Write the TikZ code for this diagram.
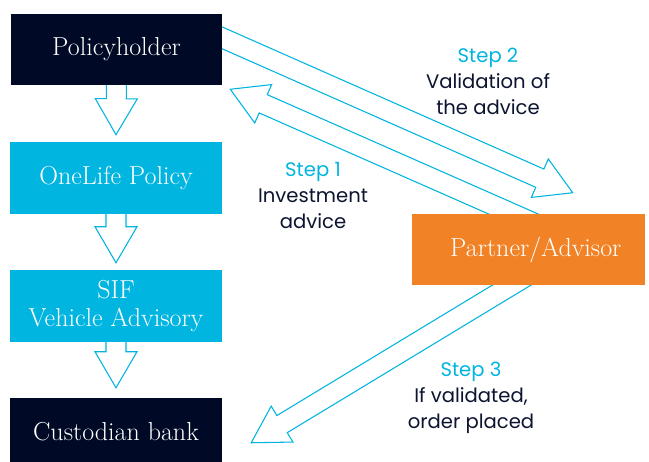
\documentclass[tikz,border=0pt]{standalone}
\usepackage{fontspec}
\newfontfamily\stepfont{Poppins}
\usetikzlibrary{calc,backgrounds}

\definecolor{navy}{RGB}{0,10,38}
\definecolor{sky}{RGB}{0,181,224}
\definecolor{flame}{RGB}{241,131,38}
\definecolor{ink}{RGB}{12,20,48}

% Outlined block arrow from #1 (tail, hidden under a box) to #2 (tip)
\newcommand\blockarrow[2]{%
  \path (#2) coordinate (ahtip) ($(#2)!27pt!(#1)$) coordinate (ahbase);
  \draw[flowline] ($(#1)!7.5pt!90:(ahtip)$) -- ($(ahbase)!7.5pt!90:(ahtip)$)
    -- ($(ahbase)!15.75pt!90:(ahtip)$) -- (ahtip)
    -- ($(ahbase)!15.75pt!-90:(ahtip)$) -- ($(ahbase)!7.5pt!-90:(ahtip)$)
    -- ($(#1)!7.5pt!-90:(ahtip)$) -- cycle;}

\begin{document}
\begin{tikzpicture}[x=0.75pt,y=-0.75pt,
  box/.style={inner sep=0pt, text=white, align=center,
    font=\fontsize{19.5}{20.5}\selectfont},
  darkbox/.style={box, fill=navy},
  skybox/.style={box, fill=sky},
  flowline/.style={draw=sky, line width=0.8pt, line join=miter},
  steptext/.style={align=center, text=ink,
    font=\stepfont\fontsize{14.7}{19.5}\selectfont}]

\useasboundingbox (0,0) rectangle (649,461);

% boxes
\node[darkbox, minimum width=158.25pt, minimum height=53.25pt] (ph) at (116.5,49.5) {Policyholder};
\node[skybox, minimum width=159pt, minimum height=54pt] (ol) at (116,178) {OneLife Policy};
\node[skybox, minimum width=159pt, minimum height=54pt] (sif) at (116,306) {SIF\\Vehicle Advisory};
\node[darkbox, minimum width=159pt, minimum height=51pt] (cb) at (116,432) {Custodian bank};
\node[box, fill=flame, minimum width=174.75pt, minimum height=53.25pt] (pa) at (528.5,249.5) {\hspace*{11pt}Partner/Advisor};

% step labels
\node[steptext] (t2) at (488,81.5) {\textcolor{sky}{Step 2}\\Validation of\\the advice};
\node[steptext] (t1) at (313,195.5) {\textcolor{sky}{Step 1}\\Investment\\advice};
\node[steptext] (t3) at (471,397.5) {\textcolor{sky}{Step 3}\\If validated,\\order placed};

% arrow end points
\coordinate (d1s) at ($(ph.south)+(0,-15)$);
\coordinate (d1t) at ($(ol.north)+(0,-7)$);
\coordinate (d2s) at ($(ol.south)+(0,-15)$);
\coordinate (d2t) at ($(sif.north)+(0,-7)$);
\coordinate (d3s) at ($(sif.south)+(0,-15)$);
\coordinate (d3t) at ($(cb.north)+(0,-10)$);
\coordinate (s2s) at ($(ph.north west)+(184,12)$);
\coordinate (s2t) at ($(pa.north west)+(161,-21)$);
\coordinate (s1s) at ($(pa.north west)+(126,11)$);
\coordinate (s1t) at ($(ph.south east)+(8,4)$);
\coordinate (s3s) at ($(pa.south west)+(136,-22)$);
\coordinate (s3t) at ($(cb.north east)+(29,45)$);

\begin{scope}[on background layer]
  \fill[white] (0,0) rectangle (649,461);
  \blockarrow{d1s}{d1t}
  \blockarrow{d2s}{d2t}
  \blockarrow{d3s}{d3t}
  \blockarrow{s2s}{s2t}
  \blockarrow{s1s}{s1t}
  \blockarrow{s3s}{s3t}
\end{scope}
\end{tikzpicture}
\end{document}
